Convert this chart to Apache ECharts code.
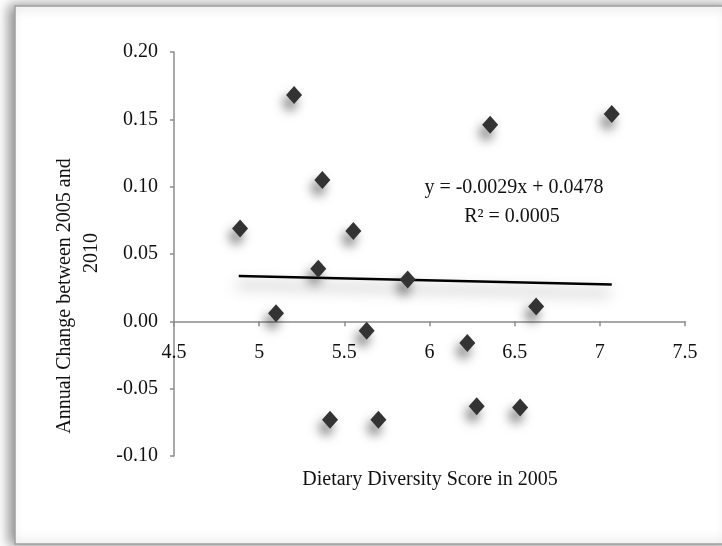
<!DOCTYPE html>
<html>
<head>
<meta charset="utf-8">
<script src="https://cdn.jsdelivr.net/npm/echarts@6/dist/echarts.min.js"></script>
<style>
  html, body { margin: 0; padding: 0; background: #ffffff; }
  #chart { width: 722px; height: 546px; }
</style>
</head>
<body>
<div id="chart"></div>
<script>
// Dietary Diversity Score in 2005 (x) vs annual change 2005-2010 (y)
const ddsScores = [5.205, 5.371, 4.888, 5.553, 6.356, 7.070, 5.872, 6.626,
                   5.347, 5.099, 5.631, 5.416, 5.700, 6.222, 6.277, 6.532];
const annualChange = [0.168, 0.105, 0.069, 0.067, 0.146, 0.154, 0.031, 0.011,
                      0.039, 0.006, -0.007, -0.073, -0.073, -0.016, -0.063, -0.064];

// Linear trendline y = slope * x + intercept, drawn across the data range
const trendSlope = -0.0029;
const trendIntercept = 0.0478;
const trendRange = [4.88, 7.07];

const xTicks = [4.5, 5, 5.5, 6, 6.5, 7, 7.5];
const yTicks = [-0.10, -0.05, 0.00, 0.05, 0.10, 0.15, 0.20];

const equationLines = ['y = -0.0029x + 0.0478', 'R\u00B2 = 0.0005'];
const xTitle = 'Dietary Diversity Score in 2005';
const yTitleLines = ['Annual Change between 2005 and', '2010'];

const points = ddsScores.map((x, i) => [x, annualChange[i]]);
const trendPoints = trendRange.map(x => [x, trendSlope * x + trendIntercept]);

const serif = '"Liberation Serif", "DejaVu Serif", serif';

const gridTop = 52, gridHeight = 404;
const yMin = yTicks[0], yMax = yTicks[yTicks.length - 1];
// the x axis crosses the y axis at 0: shift it up from the grid bottom
const xAxisOffset = -gridHeight * (0 - yMin) / (yMax - yMin);

const chart = echarts.init(document.getElementById('chart'), null, { renderer: 'canvas' });

chart.setOption({
  animation: false,
  backgroundColor: '#ffffff',
  grid: { left: 174, top: gridTop, width: 511, height: gridHeight, containLabel: false },
  xAxis: {
    type: 'value',
    position: 'bottom',
    offset: xAxisOffset,
    min: xTicks[0],
    max: xTicks[xTicks.length - 1],
    interval: 0.5,
    splitLine: { show: false },
    axisLine: { onZero: false, lineStyle: { color: '#8c8c8c', width: 1.5 } },
    axisTick: { show: true, length: 5, lineStyle: { color: '#8c8c8c', width: 1.5 } },
    axisLabel: {
      margin: 21,
      color: '#111',
      fontFamily: serif,
      fontSize: 20,
      formatter: v => String(v)
    }
  },
  yAxis: {
    type: 'value',
    min: yMin,
    max: yMax,
    interval: 0.05,
    splitLine: { show: false },
    axisLine: { show: true, onZero: false, lineStyle: { color: '#8c8c8c', width: 1.5 } },
    axisTick: { show: true, length: 4, lineStyle: { color: '#8c8c8c', width: 1.5 } },
    axisLabel: {
      margin: 16,
      color: '#111',
      fontFamily: serif,
      fontSize: 20,
      formatter: v => v.toFixed(2)
    }
  },
  series: [
    {
      type: 'line',
      data: trendPoints,
      symbol: 'none',
      z: 3,
      lineStyle: {
        color: '#000',
        width: 2.5,
        shadowColor: 'rgba(0,0,0,0.5)',
        shadowBlur: 14,
        shadowOffsetX: -2,
        shadowOffsetY: 9
      }
    },
    {
      type: 'scatter',
      data: points,
      symbol: 'diamond',
      symbolSize: [16, 18],
      z: 4,
      itemStyle: {
        color: '#333333',
        opacity: 1,
        shadowColor: 'rgba(0,0,0,0.55)',
        shadowBlur: 11,
        shadowOffsetX: -4,
        shadowOffsetY: 8
      }
    }
  ],
  graphic: [
    {
      type: 'rect',
      z: -10,
      silent: true,
      shape: { x: 15, y: 6, width: 720, height: 538 },
      style: {
        fill: '#ffffff',
        stroke: '#a0a0a0',
        lineWidth: 1.5,
        shadowColor: 'rgba(0,0,0,0.45)',
        shadowBlur: 12,
        shadowOffsetX: -5,
        shadowOffsetY: 0
      }
    },
    {
      type: 'text', x: 514, y: 188, z: 10,
      style: { text: equationLines[0], font: '20px ' + serif, fill: '#111', textAlign: 'center', textVerticalAlign: 'middle' }
    },
    {
      type: 'text', x: 512, y: 217, z: 10,
      style: { text: equationLines[1], font: '20px ' + serif, fill: '#111', textAlign: 'center', textVerticalAlign: 'middle' }
    },
    {
      type: 'text', x: 430, y: 480, z: 10,
      style: { text: xTitle, font: '20px ' + serif, fill: '#111', textAlign: 'center', textVerticalAlign: 'middle' }
    },
    {
      type: 'text', x: 65, y: 296, rotation: Math.PI / 2, z: 10,
      style: { text: yTitleLines[0], font: '20px ' + serif, fill: '#111', textAlign: 'center', textVerticalAlign: 'middle' }
    },
    {
      type: 'text', x: 92, y: 253, rotation: Math.PI / 2, z: 10,
      style: { text: yTitleLines[1], font: '20px ' + serif, fill: '#111', textAlign: 'center', textVerticalAlign: 'middle' }
    }
  ]
});
</script>
</body>
</html>
